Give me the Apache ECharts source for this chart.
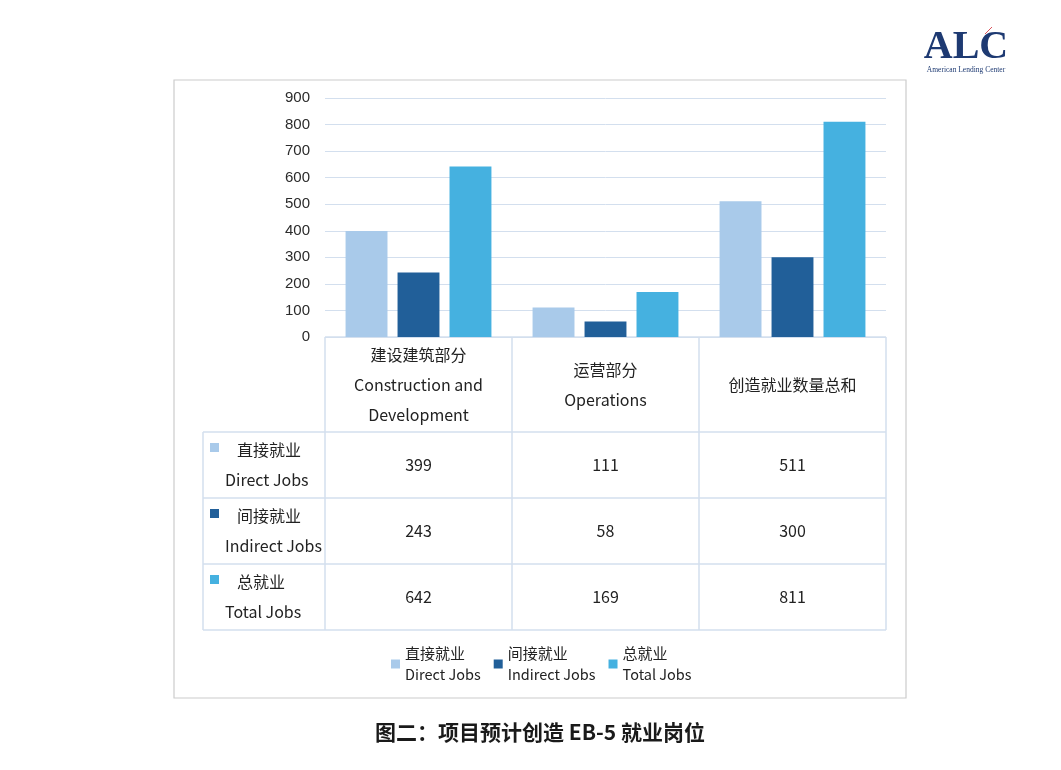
<!doctype html>
<html>
<head>
    <meta charset="utf-8">
    <title>EB-5 Jobs</title>
    <script src="https://cdn.jsdelivr.net/npm/echarts@6/dist/echarts.min.js"></script>
</head>
<style>
    html, body { margin: 0; padding: 0; background: #fff; }
    #main { width: 1061px; height: 770px; }
</style>
<body>
<div id="main"></div>
<script>
  // data
  var categories = ['建设建筑部分\nConstruction and\nDevelopment', '运营部分\nOperations', '创造就业数量总和'];
  var seriesNames = ['直接就业', '间接就业', '总就业'];
  var seriesNamesEn = ['Direct Jobs', 'Indirect Jobs', 'Total Jobs'];
  var directJobs = [399, 111, 511];
  var indirectJobs = [243, 58, 300];
  var totalJobs = [642, 169, 811];
  var yTicks = [0, 100, 200, 300, 400, 500, 600, 700, 800, 900];
  var titleText = '图二：项目预计创造 EB-5 就业岗位';

  var colors = ['#A9CAEA', '#215F99', '#45B1E0'];
  var values = [directJobs, indirectJobs, totalJobs];
  var cjk = '"Noto Sans CJK SC", "Noto Sans", sans-serif';
  var lineColor = '#D3DFEE';

  var myChart = echarts.init(document.getElementById('main'));

  var option = {
    backgroundColor: '#fff',
    animation: false,
    grid: { left: 325, right: 175, top: 98, bottom: 433 },
    xAxis: {
      type: 'category',
      data: categories,
      axisLine: { show: false },
      axisTick: { show: false },
      axisLabel: { show: false }
    },
    yAxis: {
      type: 'value',
      min: yTicks[0],
      max: yTicks[yTicks.length - 1],
      interval: 100,
      axisLine: { show: false },
      axisTick: { show: false },
      axisLabel: {
        color: '#2b2b2b',
        fontSize: 15,
        fontFamily: '"Liberation Sans", Arial, sans-serif',
        margin: 15
      },
      splitLine: { lineStyle: { color: lineColor, width: 1 } }
    },
    legend: {
      left: 386,
      top: 641,
      itemWidth: 9,
      itemHeight: 9,
      itemGap: 13,
      icon: 'rect',
      data: seriesNames,
      formatter: function (name) {
        var i = seriesNames.indexOf(name);
        return '{a|' + name + '}\n{b|' + seriesNamesEn[i] + '}';
      },
      textStyle: {
        color: '#222',
        fontFamily: cjk,
        rich: {
          a: { fontSize: 15, lineHeight: 21, fontFamily: cjk, color: '#222' },
          b: { fontSize: 14.5, lineHeight: 21, fontFamily: cjk, color: '#222' }
        }
      }
    },
    series: seriesNames.map(function (name, i) {
      return {
        name: name,
        type: 'bar',
        data: values[i],
        barGap: '24%',
        barCategoryGap: '22%',
        itemStyle: { color: colors[i] }
      };
    })
  };

  myChart.setOption(option);

  // table under the plot, aligned to the category bands
  var c0 = myChart.convertToPixel({ xAxisIndex: 0 }, 0);
  var c1 = myChart.convertToPixel({ xAxisIndex: 0 }, 1);
  var band = c1 - c0;
  var y0 = myChart.convertToPixel({ yAxisIndex: 0 }, 0);
  var colEdges = [c0 - band / 2, c0 + band / 2, c0 + band * 1.5, c0 + band * 2.5];
  var headerBottom = y0 + 95;
  var rowH = 66;
  var labelLeft = 203;
  var tableBottom = headerBottom + rowH * 3;

  var g = [];
  function line(x1, y1, x2, y2) {
    g.push({ type: 'line', shape: { x1: x1, y1: y1, x2: x2, y2: y2 },
      style: { stroke: lineColor, lineWidth: 1.5 }, silent: true });
  }
  // outer frame
  g.push({ type: 'rect', shape: { x: 174, y: 80, width: 732, height: 618 },
    style: { fill: 'none', stroke: '#CCCCCC', lineWidth: 1.2 }, silent: true });

  // header
  line(colEdges[0], y0, colEdges[3], y0);
  colEdges.forEach(function (x) { line(x, y0, x, tableBottom); });
  line(labelLeft, headerBottom, labelLeft, tableBottom);
  for (var r = 0; r <= 3; r++) {
    line(labelLeft, headerBottom + r * rowH, colEdges[3], headerBottom + r * rowH);
  }
  categories.forEach(function (cat, i) {
    g.push({ type: 'text', x: c0 + band * i, y: (y0 + headerBottom) / 2,
      style: { text: cat, align: 'center', verticalAlign: 'middle', fontSize: 16,
        lineHeight: 30, fontFamily: cjk, fill: '#222' } });
  });
  // rows
  seriesNames.forEach(function (name, r) {
    var top = headerBottom + r * rowH;
    g.push({ type: 'rect', shape: { x: 210, y: top + 11, width: 9, height: 9 },
      style: { fill: colors[r] } });
    g.push({ type: 'text', x: 237, y: top + 18,
      style: { text: name, verticalAlign: 'middle', fontSize: 16, fontFamily: cjk, fill: '#222' } });
    g.push({ type: 'text', x: 225, y: top + 48,
      style: { text: seriesNamesEn[r], verticalAlign: 'middle', fontSize: 16, fontFamily: cjk, fill: '#222' } });
    values[r].forEach(function (v, i) {
      g.push({ type: 'text', x: c0 + band * i, y: top + rowH / 2,
        style: { text: String(v), align: 'center', verticalAlign: 'middle', fontSize: 16,
          fontFamily: cjk, fill: '#222' } });
    });
  });

  // caption
  g.push({ type: 'text', x: 540, y: 732,
    style: { text: titleText, align: 'center', verticalAlign: 'middle', fontSize: 21,
      fontWeight: 'bold', fontFamily: cjk, fill: '#1a1a1a' } });

  // logo
  g.push({ type: 'text', x: 966, y: 48,
    style: { text: 'ALC', align: 'center', verticalAlign: 'middle', fontSize: 40,
      fontWeight: 'bold', fontFamily: '"Liberation Serif", "DejaVu Serif", serif', fill: '#1E3A72' } });
  g.push({ type: 'text', x: 966, y: 70,
    style: { text: 'American Lending Center', align: 'center', verticalAlign: 'middle', fontSize: 7.5,
      fontFamily: '"Liberation Serif", serif', fill: '#1E3A72' } });
  g.push({ type: 'line', shape: { x1: 985, y1: 34, x2: 992, y2: 27 },
    style: { stroke: '#D9535B', lineWidth: 1 } });

  myChart.setOption({ graphic: g });
</script>
</body>
</html>
